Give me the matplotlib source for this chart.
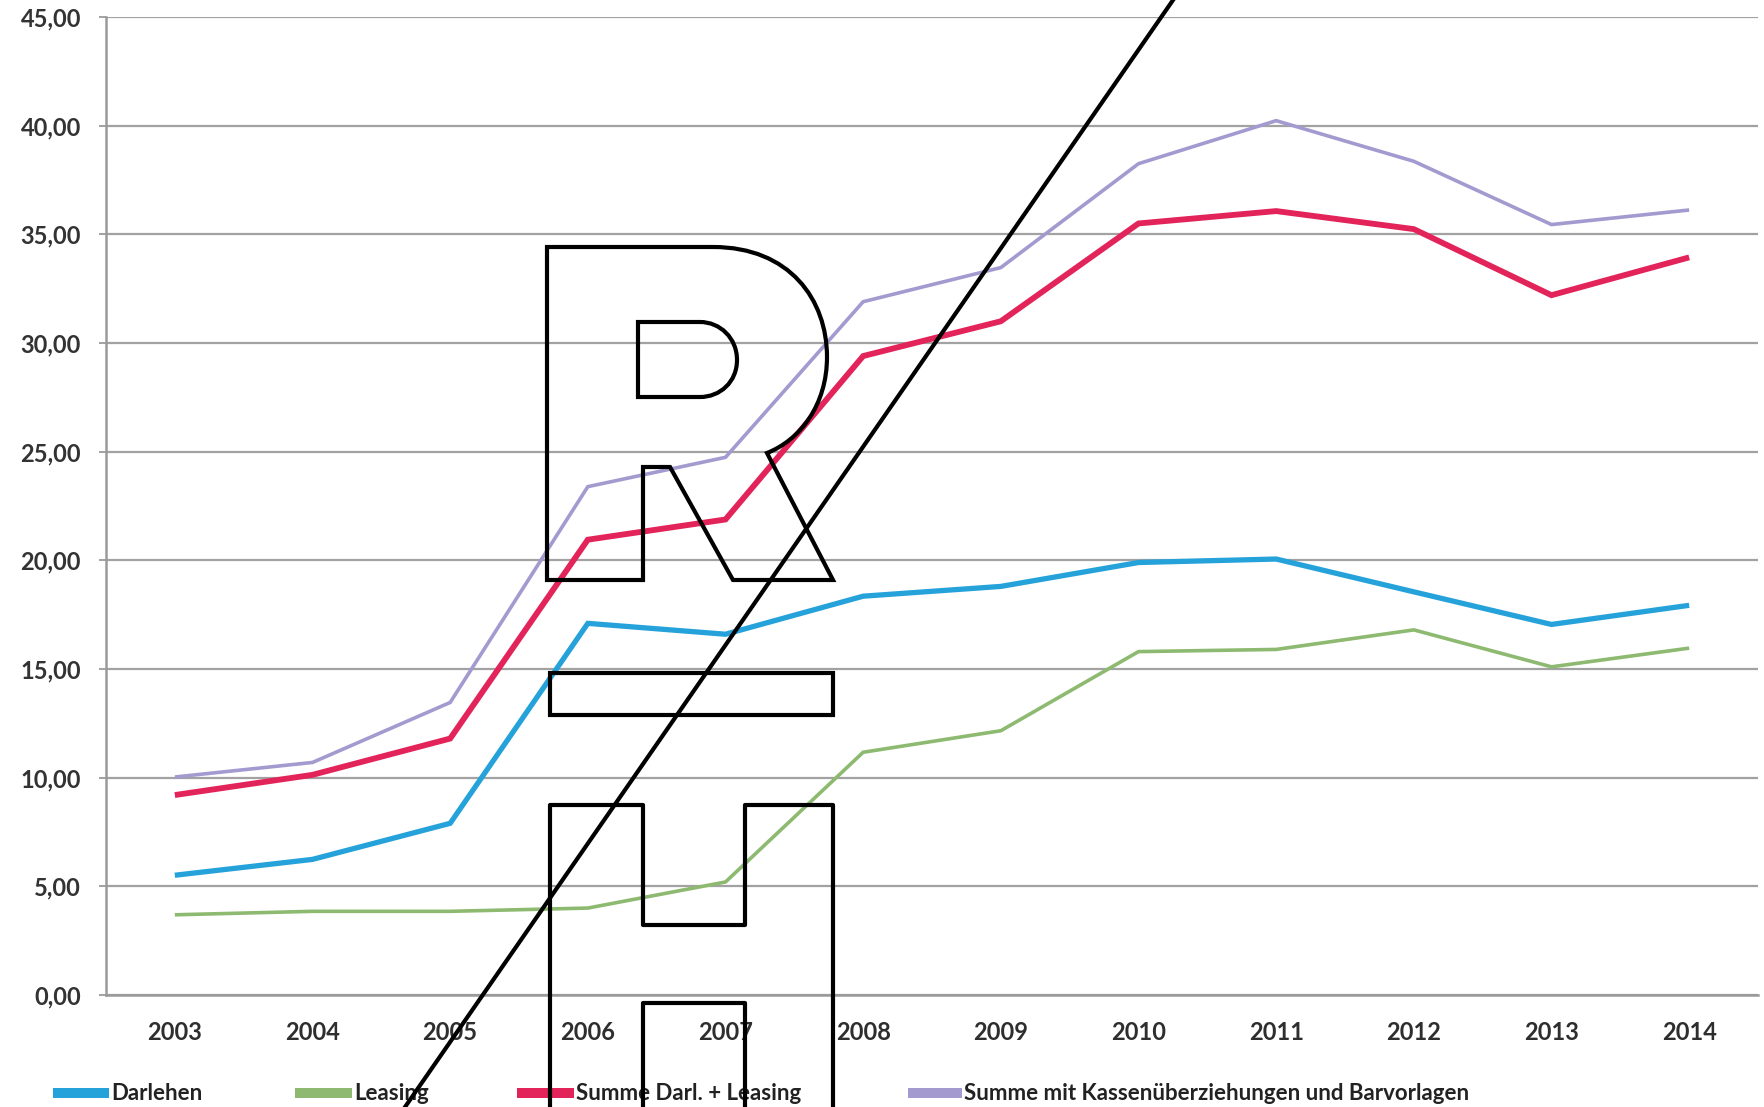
import matplotlib
matplotlib.use("Agg")
import matplotlib.pyplot as plt
from matplotlib.path import Path
from matplotlib.patches import PathPatch, Rectangle
from matplotlib.lines import Line2D

# ---------------- data ----------------
years = ["2003", "2004", "2005", "2006", "2007", "2008", "2009",
         "2010", "2011", "2012", "2013", "2014"]
darlehen = [5.51, 6.24, 7.90, 17.10, 16.60, 18.35, 18.80, 19.90, 20.06, 18.55, 17.05, 17.93]
leasing = [3.69, 3.85, 3.85, 4.00, 5.20, 11.17, 12.16, 15.80, 15.90, 16.80, 15.10, 15.96]
summe_darl_leasing = [9.20, 10.13, 11.80, 20.95, 21.88, 29.40, 31.00, 35.50, 36.07, 35.24, 32.20, 33.94]
summe_mit_kassen = [10.03, 10.70, 13.46, 23.39, 24.74, 31.90, 33.47, 38.25, 40.23, 38.36, 35.45, 36.12]
series_names = ["Darlehen", "Leasing", "Summe Darl. + Leasing",
                "Summe mit Kassenüberziehungen und Barvorlagen"]
y_ticks = [0, 5, 10, 15, 20, 25, 30, 35, 40, 45]

# ---------------- style ----------------
colors = ["#25a2da", "#8dba70", "#e2245a", "#a39bd0"]
widths = [3.8, 2.6, 4.2, 2.6]
FONT = ["Lato", "DejaVu Sans"]
W, H = 1765, 1107
fig = plt.figure(figsize=(W / 100, H / 100), dpi=100)
fig.patch.set_facecolor("white")

left_px, right_px, top_px, bottom_px = 106, 1758, 17, 995
ax = fig.add_axes([left_px / W, 1 - bottom_px / H,
                   (right_px - left_px) / W, (bottom_px - top_px) / H])

x = list(range(len(years)))
all_series = [darlehen, leasing, summe_darl_leasing, summe_mit_kassen]
for vals, c, lw, name in zip(all_series, colors, widths, series_names):
    ax.plot(x, vals, color=c, lw=lw, label=name, solid_joinstyle="miter",
            solid_capstyle="butt", zorder=3)

ax.set_xlim(-0.5, len(years) - 0.5)
ax.set_ylim(0, 45)
ax.set_yticks(y_ticks)
ax.set_yticklabels([f"{v:.2f}".replace(".", ",") for v in y_ticks])
ax.set_xticks(x)
ax.set_xticklabels(years)
ax.grid(axis="y", color="#a2a2a2", lw=1.6, zorder=1)
ax.set_axisbelow(True)
for s in ["top", "right"]:
    ax.spines[s].set_visible(False)
for s in ["left", "bottom"]:
    ax.spines[s].set_color("#9a9a9a")
    ax.spines[s].set_linewidth(1.8)
ax.tick_params(axis="y", length=5, width=1.4, color="#a2a2a2", pad=13)
ax.tick_params(axis="x", length=0, pad=19)
for lab in ax.get_yticklabels():
    lab.set_fontfamily(FONT); lab.set_fontsize(17); lab.set_fontweight("bold"); lab.set_color("#333333")
for lab in ax.get_xticklabels():
    lab.set_fontfamily(FONT); lab.set_fontsize(17); lab.set_fontweight("bold"); lab.set_color("#2e2e2e")

# ---------------- overlay layer (pixel coordinates) ----------------
ov = fig.add_axes([0, 0, 1, 1], zorder=10)
ov.set_xlim(0, W)
ov.set_ylim(H, 0)
ov.axis("off")
ov.patch.set_alpha(0)

# legend along the bottom edge
leg_x = [53, 295, 517, 908]
leg_w = [56, 57, 57, 54]
for lx, lw_, c, name in zip(leg_x, leg_w, colors, series_names):
    ov.add_patch(Rectangle((lx, 1088), lw_, 10, color=c, lw=0))
    ov.text(lx + lw_ + 2, 1104, name, fontsize=16, fontweight="bold",
            family=FONT, color="#222222", va="bottom", ha="left")

# watermark: diagonal line
ov.add_line(Line2D([396, 1180], [1120, -10], color="black", lw=3.0, zorder=11))

# watermark: outlined "R"
MV, LN, CV, CL = Path.MOVETO, Path.LINETO, Path.CURVE4, Path.CLOSEPOLY
r_verts = [(547, 247), (713, 247),
           (790, 247), (827, 300), (827, 357),
           (827, 405), (800, 440), (767, 453),
           (833, 580), (733, 580), (670, 467), (643, 467), (643, 580),
           (547, 580), (547, 247),
           (638, 322), (700, 322),
           (720, 322), (737, 338), (737, 360),
           (737, 382), (720, 397), (700, 397),
           (638, 397), (638, 322)]
r_codes = [MV, LN, CV, CV, CV, CV, CV, CV, LN, LN, LN, LN, LN, LN, CL,
           MV, LN, CV, CV, CV, CV, CV, CV, LN, CL]
ov.add_patch(PathPatch(Path(r_verts, r_codes), fill=False, ec="black", lw=3.0, zorder=11))

# watermark: bar
ov.add_patch(Rectangle((550, 673), 283, 42, fill=False, ec="black", lw=3.0, zorder=11))

# watermark: "H"
ov.add_line(Line2D([550, 550, 643, 643, 745, 745, 833, 833],
                   [1120, 805, 805, 925, 925, 805, 805, 1120],
                   color="black", lw=3.0, zorder=11))
ov.add_line(Line2D([643, 643, 745, 745], [1120, 1003, 1003, 1120],
                   color="black", lw=3.0, zorder=11))

fig.savefig("out.png", dpi=100, facecolor="white")
